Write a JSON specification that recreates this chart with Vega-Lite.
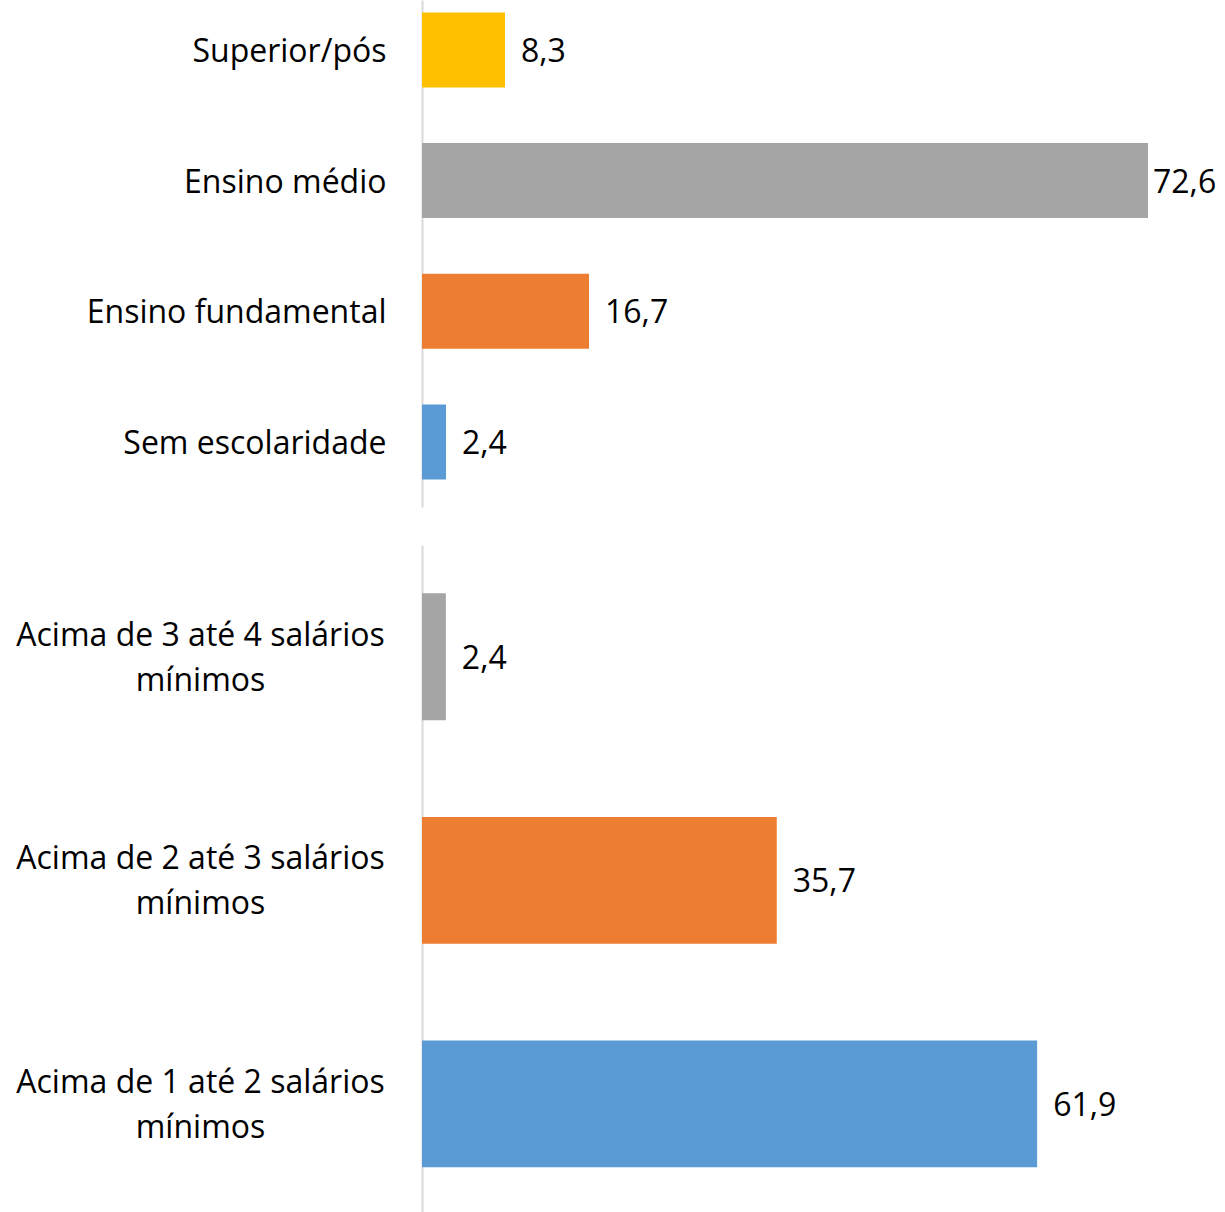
{
  "$schema": "https://vega.github.io/schema/vega-lite/v6.json",
  "padding": {"left": 15, "top": 0, "right": 0, "bottom": 0},
  "autosize": {"type": "pad"},
  "bounds": "flush",
  "spacing": 38,
  "resolve": {"scale": {"color": "independent"}},
  "config": {
    "view": {"stroke": null},
    "font": "Open Sans",
    "locale": {"number": {"decimal": ",", "thousands": ".", "grouping": [3], "currency": ["R$", ""]}}
  },
  "vconcat": [
    {
      "width": 800,
      "height": 507,
      "data": {"values": [
        {"cat": "Superior/pós", "v": 8.3},
        {"cat": "Ensino médio", "v": 72.6},
        {"cat": "Ensino fundamental", "v": 16.7},
        {"cat": "Sem escolaridade", "v": 2.4}
      ]},
      "encoding": {
        "y": {"field": "cat", "type": "nominal", "sort": null,
          "scale": {"paddingInner": 0.426, "paddingOuter": 0.153, "align": 0.31},
          "axis": {"title": null, "ticks": false, "domainColor": "#D9D9D9", "domainWidth": 2, "labelFontSize": 32, "labelColor": "#000000", "labelPadding": 36, "labelOffset": 2, "labelLimit": 600}},
        "x": {"field": "v", "type": "quantitative", "scale": {"domain": [0, 80]}, "axis": null}
      },
      "layer": [
        {"mark": {"type": "bar"},
         "encoding": {"color": {"field": "cat", "type": "nominal", "legend": null,
           "scale": {"domain": ["Superior/pós", "Ensino médio", "Ensino fundamental", "Sem escolaridade"], "range": ["#FFC000", "#A5A5A5", "#ED7D31", "#5B9BD5"]}}}},
        {"transform": [{"filter": "datum.v < 70"}],
         "mark": {"type": "text", "align": "left", "dx": 16, "dy": 2, "fontSize": 32, "color": "#000000"},
         "encoding": {"text": {"field": "v", "type": "quantitative", "format": ".1f"}}},
        {"transform": [{"filter": "datum.v >= 70"}],
         "mark": {"type": "text", "align": "left", "dx": 5, "dy": 2, "fontSize": 32, "color": "#000000"},
         "encoding": {"text": {"field": "v", "type": "quantitative", "format": ".1f"}}}
      ]
    },
    {
      "width": 795,
      "height": 667,
      "data": {"values": [
        {"cat": "Acima de 3 até 4 salários|mínimos", "v": 2.4},
        {"cat": "Acima de 2 até 3 salários|mínimos", "v": 35.7},
        {"cat": "Acima de 1 até 2 salários|mínimos", "v": 61.9}
      ]},
      "encoding": {
        "y": {"field": "cat", "type": "nominal", "sort": null,
          "scale": {"paddingInner": 0.432, "paddingOuter": 0.208, "align": 0.52},
          "axis": {"title": null, "ticks": false, "domainColor": "#D9D9D9", "domainWidth": 2, "labelFontSize": 32, "labelColor": "#000000", "labelPadding": 222, "labelAlign": "center", "labelLineHeight": 45, "labelOffset": -21, "labelLimit": 600, "labelExpr": "split(datum.value, '|')"}},
        "x": {"field": "v", "type": "quantitative", "scale": {"domain": [0, 80]}, "axis": null}
      },
      "layer": [
        {"mark": {"type": "bar"},
         "encoding": {"color": {"field": "cat", "type": "nominal", "legend": null,
           "scale": {"domain": ["Acima de 3 até 4 salários|mínimos", "Acima de 2 até 3 salários|mínimos", "Acima de 1 até 2 salários|mínimos"], "range": ["#A5A5A5", "#ED7D31", "#5B9BD5"]}}}},
        {"mark": {"type": "text", "align": "left", "dx": 16, "dy": 2, "fontSize": 32, "color": "#000000"},
         "encoding": {"text": {"field": "v", "type": "quantitative", "format": ".1f"}}}
      ]
    }
  ]
}
